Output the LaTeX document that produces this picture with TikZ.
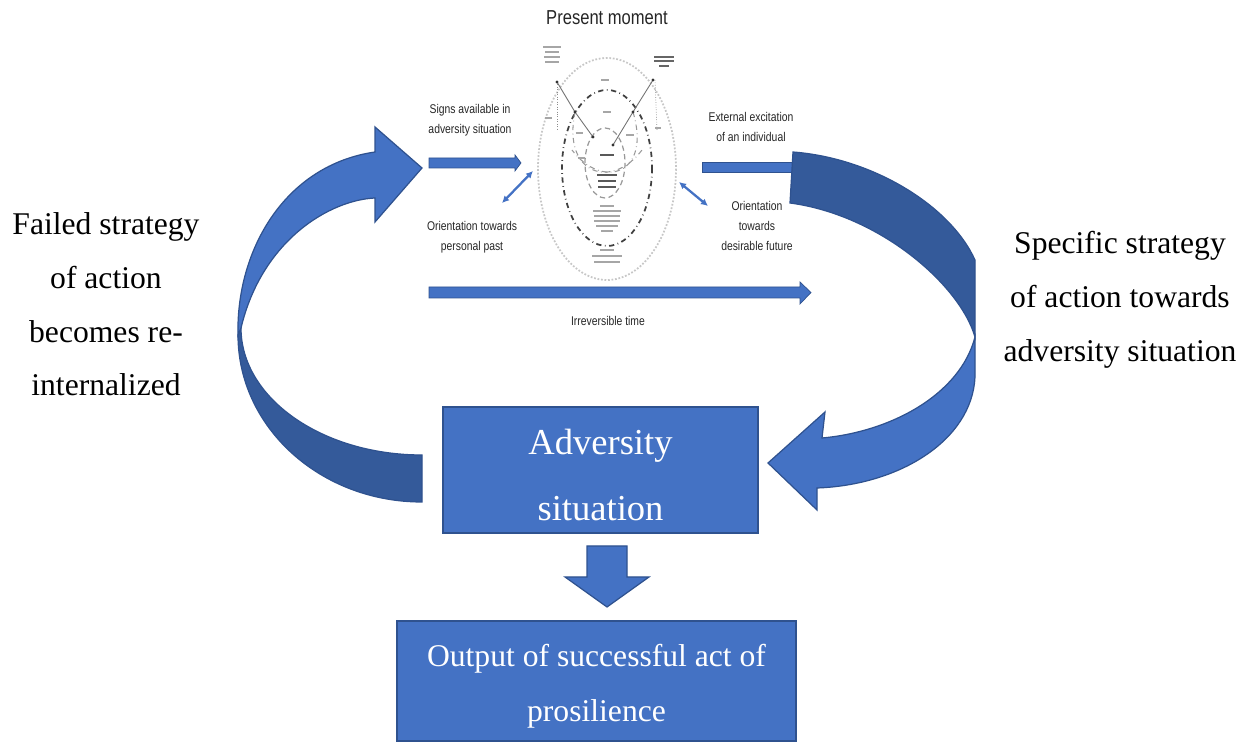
\documentclass[tikz,border=0pt]{standalone}
\usepackage{fontspec}
\setmainfont{Liberation Serif}
\newfontfamily\narrowsans[FakeStretch=0.82]{Liberation Sans}
\usetikzlibrary{arrows.meta}
\definecolor{office}{HTML}{4472C4}
\definecolor{officeedge}{HTML}{2F528F}
\definecolor{officedark}{RGB}{52,90,154}
\begin{document}
\begin{tikzpicture}[x=0.02cm,y=-0.02cm,
  blockfill/.style={fill=office,draw=officeedge,line width=0.7pt},
  darkfill/.style={fill=officedark,draw=officeedge,line width=0.7pt},
  box/.style={blockfill,inner sep=0pt},
  boxtext/.style={text=white,align=center,inner sep=0pt},
  lbl/.style={font=\narrowsans\fontsize{7.2}{11.3}\selectfont,text=black!85,align=center},
  side/.style={font=\fontsize{18}{30.6}\selectfont,align=center},
  sketch/.style={black!55,line width=0.5pt},
  blob/.style={black!35,line width=0.9pt}]
\path[use as bounding box] (0,0) rectangle (1249,742);

% ---------- embedded "present moment" sketch ----------
\draw[black!22,densely dotted,line width=1pt] (607,169) ellipse [x radius=69, y radius=111];
\draw[black!75,dash dot,line width=1pt] (607,168) ellipse [x radius=45, y radius=78];
\draw[black!40,densely dashed,line width=0.7pt] (605,163) ellipse [x radius=20, y radius=35];
\draw[black!40,dash dot,line width=0.6pt] (575,112) .. controls (562,175) and (612,190) .. (642,150);
\draw[black!40,dash dot,line width=0.6pt] (633,112) .. controls (652,175) and (602,190) .. (572,150);
\draw[sketch] (557,82) -- (575,112) -- (593,137);
\draw[sketch] (653,80) -- (633,112) -- (613,145);
\draw[black!45,densely dotted] (557,82) -- (557,130);
\draw[black!45,densely dotted] (655,80) -- (657,130);
\foreach \p in {(557,82),(653,80),(575,112),(633,112),(593,137),(613,145)}
  \fill[black!80] \p circle [radius=1.6];
% illegible micro-text of the sketch, rendered as grey strokes
\foreach \yy/\w in {47/18,52/14,57/16,62/14}{\draw[blob] (552-\w/2,\yy) -- (552+\w/2,\yy);}
\foreach \yy/\w in {57/20,61/20,66/10}{\draw[black!60,line width=1pt] (664-\w/2,\yy) -- (664+\w/2,\yy);}
\foreach \x/\yy/\w in {605/80/8,607/112/8,579/133/7,630/135/8,581/158/7,658/128/6,548/118/7}{\draw[blob] (\x-\w/2,\yy) -- (\x+\w/2,\yy);}
\foreach \yy/\w in {155/14,175/20,181/18,187/18}{\draw[black!65,line width=1pt] (607-\w/2,\yy) -- (607+\w/2,\yy);}
\foreach \yy/\w in {206/14,211/28,216/26,221/26,226/22,231/12}{\draw[blob] (607-\w/2,\yy) -- (607+\w/2,\yy);}
\foreach \yy/\w in {250/14,256/30,262/26}{\draw[blob] (607-\w/2,\yy) -- (607+\w/2,\yy);}

% ---------- labels of the sketch ----------
\node[font=\narrowsans\fontsize{11.5}{13}\selectfont,text=black!85] (pm) at (607,18) {Present moment};
\node[lbl] (signs) at (470,120) {Signs available in\\adversity situation};
\node[lbl] (ext) at (751,127) {External excitation\\of an individual};
\node[lbl] (past) at (472,237) {Orientation towards\\personal past};
\node[lbl] (fut) at (757,226) {Orientation\\towards\\desirable future};
\node[lbl] (irr) at (608,321) {Irreversible time};

% ---------- straight arrows ----------
\draw[blockfill,line width=0.4pt] (429,158) -- (515,158) -- (515,155) -- (521,163) -- (515,171) -- (515,168) -- (429,168) -- cycle;
\draw[blockfill,line width=0.4pt] (702,162) -- (800,162) -- (800,172) -- (702,172) -- cycle;
\draw[blockfill,line width=0.4pt] (429,287) -- (800,287) -- (800,282) -- (811,292.5) -- (800,304) -- (800,298) -- (429,298) -- cycle;
\coordinate (dl1) at (502,203);
\coordinate (dl2) at (533,171);
\coordinate (dr1) at (679,182);
\coordinate (dr2) at (708,206);
\draw[office,line width=1.3pt,{Latex[length=4pt,width=4pt]}-{Latex[length=4pt,width=4pt]}] (dl1) -- (dl2);
\draw[office,line width=1.3pt,{Latex[length=4pt,width=4pt]}-{Latex[length=4pt,width=4pt]}] (dr1) -- (dr2);

% ---------- left curved arrow ----------
\draw[darkfill] (238,335) .. controls (238,427) and (320,502) .. (422,502)
  -- (422,455) .. controls (322,455) and (241,398) .. (241,328) -- cycle;
\draw[blockfill] (238,335) .. controls (236,250) and (285,165) .. (375,152)
  -- (375,127) -- (422,168) -- (375,222) -- (375,198)
  .. controls (330,200) and (262,240) .. (241,328) -- cycle;

% ---------- right curved arrow ----------
\draw[darkfill] (793,152) .. controls (872,158) and (950,205) .. (975,260)
  -- (975,337) .. controls (960,285) and (880,215) .. (790,203) -- cycle;
\draw[blockfill] (975,337) -- (975,377) .. controls (972,440) and (900,485) .. (817,488)
  -- (817,510) -- (768,463) -- (825,412) -- (822,438)
  .. controls (890,432) and (960,395) .. (975,337) -- cycle;

% ---------- boxes ----------
\node[box,minimum width=6.3cm,minimum height=2.52cm] (adv) at (600.5,470) {};
\node[boxtext,font=\fontsize{20.8}{37.4}\selectfont] (advtext) at (600.5,475) {Adversity\\situation};
\node[box,minimum width=7.98cm,minimum height=2.4cm] (out) at (596.5,681) {};
\node[boxtext,font=\fontsize{18}{31.2}\selectfont] (outtext) at (596.5,686) {Output of successful act of\\prosilience};
\draw[blockfill] (587,546) -- (627,546) -- (627,577) -- (649,577) -- (607,607) -- (565,577) -- (587,577) -- cycle;

% ---------- side texts ----------
\node[side] (failed) at (106,304.5) {Failed strategy\\of action\\becomes re-\\internalized};
\node[side] (spec) at (1120,300) {Specific strategy\\of action towards\\adversity situation};
\end{tikzpicture}
\end{document}
